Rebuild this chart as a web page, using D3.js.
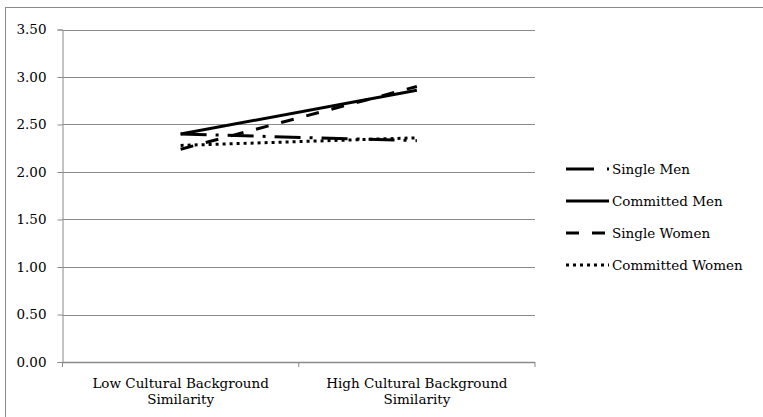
<!DOCTYPE html>
<html>
<head>
<meta charset="utf-8">
<script src="https://cdn.jsdelivr.net/npm/d3@7"></script>
<style>
  html, body { margin: 0; padding: 0; background: #fff; }
  svg { display: block; }
  text { font-family: "DejaVu Serif", "Liberation Serif", serif; fill: #000; }
</style>
</head>
<body>
<svg id="chart" width="763" height="417"></svg>
<script>
// Mean scores by cultural background similarity
const categories = ["Low Cultural Background|Similarity", "High Cultural Background|Similarity"];
const seriesNames = ["Single Men", "Committed Men", "Single Women", "Committed Women"];
const singleMen = [2.40, 2.33];
const committedMen = [2.40, 2.86];
const singleWomen = [2.24, 2.90];
const committedWomen = [2.28, 2.36];
const yTicks = [0, 0.5, 1, 1.5, 2, 2.5, 3, 3.5];

const seriesValues = [singleMen, committedMen, singleWomen, committedWomen];
const dashes = ["26,9,3,9", null, "13,13", "3,4"];

const svg = d3.select("#chart");
const plot = { left: 62.5, right: 535, top: 29.5, bottom: 362 };
const grey = "#8a8a8a";
const fontSize = 13.5;

// outer chart frame
svg.append("rect")
  .attr("x", 5.5).attr("y", 7.5)
  .attr("width", 800).attr("height", 450)
  .attr("fill", "none").attr("stroke", grey).attr("stroke-width", 1);

const x = d3.scaleBand().domain(categories).range([plot.left, plot.right]).padding(0);
const y = d3.scaleLinear().domain([0, 3.5]).range([plot.bottom, plot.top]);

// horizontal gridlines
svg.append("g").selectAll("line").data(yTicks.filter(d => d > 0)).join("line")
  .attr("x1", plot.left).attr("x2", plot.right)
  .attr("y1", d => Math.round(y(d)) + 0.5).attr("y2", d => Math.round(y(d)) + 0.5)
  .attr("stroke", grey).attr("stroke-width", 1);

// y axis
const yAxis = d3.axisLeft(y).tickValues(yTicks).tickFormat(d3.format(".2f")).tickSize(5).tickPadding(11);
const gy = svg.append("g").attr("transform", `translate(${plot.left},0)`).call(yAxis);
gy.select(".domain").attr("stroke", grey);
gy.selectAll(".tick line").attr("stroke", grey);
gy.selectAll(".tick text").attr("font-size", fontSize).attr("font-family", "DejaVu Serif");

// x axis with ticks at band boundaries
svg.append("line")
  .attr("x1", plot.left).attr("x2", plot.right)
  .attr("y1", plot.bottom + 0.5).attr("y2", plot.bottom + 0.5)
  .attr("stroke", grey).attr("stroke-width", 1.5);
const bounds = categories.map(c => x(c)).concat([x(categories[categories.length - 1]) + x.bandwidth()]);
svg.append("g").selectAll("line").data(bounds).join("line")
  .attr("x1", d => d).attr("x2", d => d)
  .attr("y1", plot.bottom).attr("y2", plot.bottom + 5)
  .attr("stroke", grey).attr("stroke-width", 1);

const xl = svg.append("g").selectAll("text").data(categories).join("text")
  .attr("x", d => x(d) + x.bandwidth() / 2)
  .attr("y", plot.bottom + 26)
  .attr("text-anchor", "middle")
  .attr("font-size", fontSize);
xl.each(function (d) {
  const parts = d.split("|");
  const t = d3.select(this);
  parts.forEach((p, i) => {
    t.append("tspan").attr("x", x(d) + x.bandwidth() / 2).attr("dy", i === 0 ? 0 : 16).text(p);
  });
});

// series lines
const line = d3.line()
  .x((v, i) => x(categories[i]) + x.bandwidth() / 2)
  .y(v => y(v));
svg.append("g").selectAll("path").data(seriesValues).join("path")
  .attr("d", line)
  .attr("fill", "none")
  .attr("stroke", "#000")
  .attr("stroke-width", 3)
  .attr("stroke-dasharray", (d, i) => dashes[i]);

// legend
const legY = d3.scalePoint().domain(seriesNames).range([169, 265]);
const leg = svg.append("g").selectAll("g").data(seriesNames).join("g")
  .attr("transform", d => `translate(0,${legY(d)})`);
leg.append("line")
  .attr("x1", 566).attr("x2", 609).attr("y1", 0).attr("y2", 0)
  .attr("stroke", "#000").attr("stroke-width", 3)
  .attr("stroke-dasharray", (d, i) => dashes[i] === "26,9,3,9" ? "28,13,3,20" : dashes[i]);
leg.append("text")
  .attr("x", 612).attr("y", 0).attr("dy", "0.35em")
  .attr("font-size", fontSize)
  .text(d => d);
</script>
</body>
</html>
